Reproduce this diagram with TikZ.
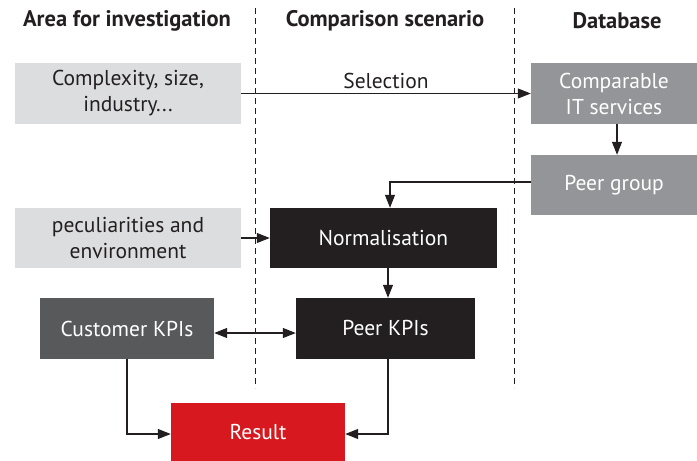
\documentclass[tikz,border=0pt]{standalone}
\usepackage{fontspec}
\setmainfont{PT Sans}
\usetikzlibrary{arrows.meta}
\definecolor{lightbox}{HTML}{DCDDDE}
\definecolor{midbox}{HTML}{939598}
\definecolor{darkbox}{HTML}{58595B}
\definecolor{blackbox}{HTML}{231F20}
\definecolor{redbox}{HTML}{D7191F}
\definecolor{linecol}{HTML}{231F20}
\begin{document}
\begin{tikzpicture}[x=1pt,y=-1pt,
  box/.style={inner sep=0pt,align=center,font=\fontsize{21.5}{26}\selectfont},
  lightstyle/.style={box,fill=lightbox,text=linecol},
  midstyle/.style={box,fill=midbox,text=white},
  darkstyle/.style={box,fill=darkbox,text=white},
  blackstyle/.style={box,fill=blackbox,text=white},
  redstyle/.style={box,fill=redbox,text=white},
  head/.style={font=\bfseries\fontsize{22.5}{24}\selectfont,text=linecol},
  conn/.style={draw=linecol,line width=1.2pt,-{Triangle[length=13pt,width=10pt]}},
  sep/.style={draw=linecol,line width=1pt,dash pattern=on 6pt off 4pt}]
\useasboundingbox (0,0) rectangle (697,461);
% separators
\draw[sep] (255,8) -- (255,388);
\draw[sep] (514,8) -- (514,388);
% headers
\node[head] (h1) at (127,21) {Area for investigation};
\node[head] (h2) at (385,21) {Comparison scenario};
\node[head] (h3) at (617,21) {Database};
% boxes
\node[lightstyle,minimum width=226pt,minimum height=61pt] (cx) at (128,93.5) {Complexity, size,\\industry...};
\node[midstyle,minimum width=166pt,minimum height=61pt] (cit) at (614,93.5) {Comparable\\IT services};
\node[midstyle,minimum width=166pt,minimum height=60pt] (pg) at (614,185) {Peer group};
\node[lightstyle,minimum width=226pt,minimum height=60pt] (pe) at (128,238) {peculiarities and\\environment};
\node[blackstyle,minimum width=227pt,minimum height=60pt] (no) at (383.5,238) {Normalisation};
\node[darkstyle,minimum width=174pt,minimum height=61pt] (ck) at (127,328.5) {Customer KPIs};
\node[blackstyle,minimum width=179pt,minimum height=61pt] (pk) at (385.5,328.5) {Peer KPIs};
\node[redstyle,minimum width=174pt,minimum height=58pt] (re) at (258,432) {Result};
% connectors
\draw[conn] (cx.east) -- node[above=1pt,font=\fontsize{21.5}{24}\selectfont,text=linecol] (sel) {Selection} (cit.west);
\draw[conn] (cit.south -| 617,0) -- (pg.north -| 617,0);
\draw[conn] (pg.west |- 0,182) -- (390,182) -- (no.north -| 390,0);
\draw[conn] (pe.east) -- (no.west);
\draw[conn] (no.south -| 388,0) -- (pk.north -| 388,0);
\draw[conn,{Triangle[length=13pt,width=10pt]}-{Triangle[length=13pt,width=10pt]}] (ck.east |- 0,333) -- (pk.west |- 0,333);
\draw[conn] (ck.south) -- (127,434) -- (re.west |- 0,434);
\draw[conn] (pk.south -| 388,0) -- (388,434) -- (re.east |- 0,434);
\end{tikzpicture}
\end{document}
